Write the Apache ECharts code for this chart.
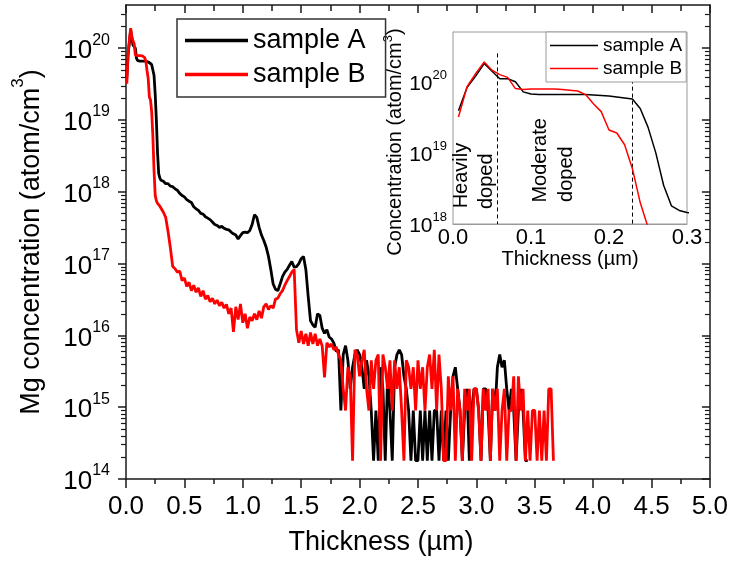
<!DOCTYPE html>
<html><head><meta charset="utf-8">
<script src="https://cdn.jsdelivr.net/npm/echarts@6/dist/echarts.min.js"></script>
<style>html,body{margin:0;padding:0;background:#fff}#c{width:731px;height:565px}</style>
</head><body><div id="c"></div>
<script>
// Depth (µm)
const thickness = [
0.007,0.018,0.029,0.04,0.05,0.06,0.07,0.08,0.09,0.1,0.11,0.12,0.13,0.14,0.15,0.16,0.17,0.18,0.19,0.2,0.21,0.22,0.23,0.24,0.25,0.26,0.27,0.28,0.29,0.3,
0.32,0.34,0.36,0.38,0.4,0.42,0.44,0.46,0.48,0.5,
0.52,0.54,0.56,0.58,0.6,0.62,0.64,0.66,0.68,0.7,
0.72,0.74,0.76,0.78,0.8,0.82,0.84,0.86,0.88,0.9,
0.92,0.94,0.96,0.98,1,1.02,1.04,1.06,1.08,1.1,
1.12,1.14,1.16,1.18,1.2,1.22,1.24,1.26,1.28,1.3,
1.32,1.34,1.36,1.38,1.4,1.42,1.44,1.46,1.48,1.5,
1.52,1.54,1.56,1.58,1.6,1.62,1.64,1.66,1.68,1.7,
1.72,1.74,1.76,1.78,1.8,
1.82,1.84,1.86,1.88,1.9,1.92,1.94,1.96,1.98,2,
2.02,2.04,2.06,2.08,2.1,2.12,2.14,2.16,2.18,2.2,
2.22,2.24,2.26,2.28,2.3,2.32,2.34,2.36,2.38,2.4,
2.42,2.44,2.46,2.48,2.5,2.52,2.54,2.56,2.58,2.6,
2.62,2.64,2.66,2.68,2.7,2.72,2.74,2.76,2.78,2.8,
2.82,2.84,2.86,2.88,2.9,2.92,2.94,2.96,2.98,3,
3.02,3.04,3.06,3.08,3.1,3.12,3.14,3.16,3.18,3.2,
3.22,3.24,3.26,3.28,3.3,3.32,3.34,3.36,3.38,3.4,
3.42,3.44,3.46,3.48,3.5,3.52,3.54,3.56,3.58,3.6,
3.62,3.64,3.66
];
// Mg concentration (atom/cm3), sample A
const sampleA = [
3.9e19,8.3e19,1.2e20,1.8e20,1.4e20,1.1e20,1.1e20,1.0e20,7.2e19,6.7e19,6.6e19,6.6e19,6.6e19,6.6e19,6.6e19,6.6e19,6.6e19,6.5e19,6.4e19,6.3e19,6.1e19,5.9e19,5.7e19,4.2e19,2.3e19,1.0e19,3.5e18,1.8e18,1.55e18,1.45e18,
1.4e18,1.3e18,1.3e18,1.2e18,1.18e18,1.1e18,1.05e18,9.5e17,8.9e17,8.5e17,
7.8e17,7.4e17,7.1e17,6.2e17,5.8e17,5.5e17,5.0e17,4.9e17,4.5e17,4.3e17,
4.1e17,3.8e17,3.5e17,3.4e17,3.2e17,3.3e17,3.1e17,3.0e17,2.95e17,2.75e17,
2.6e17,2.5e17,2.2e17,2.45e17,2.7e17,2.75e17,2.7e17,2.9e17,3.5e17,4.8e17,
4.4e17,3.2e17,2.5e17,2.1e17,1.7e17,1.26e17,8.3e16,5.2e16,4.4e16,4.2e16,
5.2e16,6.6e16,7.6e16,8.3e16,9.5e16,1.07e17,8.9e16,9.1e16,1.0e17,1.17e17,
1.26e17,8.3e16,3.5e16,1.6e16,1.4e16,1.3e16,2.0e16,1.9e16,1.26e16,1.07e16,
1.2e16,9.5e15,8.9e15,7.8e15,6.0e15,
6.3e15,9e14,5.4e15,7.2e15,4.5e15,1.8e15,3.6e15,5.4e15,6.3e15,5.4e15,
3.6e15,1.8e15,4.5e15,2.7e15,9e14,1.8e14,9e14,1.8e14,3.6e15,1.8e15,
1.8e14,2.7e15,9e14,1.8e14,3.6e15,5.4e15,6.3e15,5.4e15,2.7e15,1.8e15,
9e14,1.8e14,9e14,1.8e14,1.8e14,9e14,1.8e14,9e14,1.8e14,9e14,
1.8e14,9e14,9e14,1.8e14,9e14,1.8e14,9e14,1.8e14,9e14,2.7e15,
3.6e15,1.8e15,9e14,1.8e14,9e14,1.8e15,1.8e14,9e14,1.8e15,1.8e15,
9e14,1.8e14,1.8e15,1.8e15,9e14,1.8e14,1.8e15,9e14,3.6e15,5.4e15,
3.6e15,4.5e15,1.8e15,9e14,1.8e15,9e14,1.8e14,9e14,1.8e15,9e14,
1.8e14,1.8e14
];
// Mg concentration (atom/cm3), sample B
const sampleB = [
3.2e19,8.5e19,1.3e20,1.9e20,1.45e20,1.26e20,1.15e20,8.0e19,7.8e19,7.9e19,7.9e19,7.9e19,7.9e19,7.8e19,7.6e19,7.4e19,6.6e19,4.9e19,3.8e19,2.1e19,1.9e19,1.3e19,6.0e18,2.0e18,9.0e17,7.5e17,6.9e17,6.5e17,6.3e17,6.0e17,
5.2e17,4.4e17,2.8e17,1.66e17,9.1e16,8.5e16,7.6e16,7.9e16,5.8e16,6.3e16,
4.8e16,5.5e16,4.2e16,5.0e16,4.0e16,4.6e16,3.5e16,4.2e16,3.2e16,3.6e16,
2.95e16,3.3e16,2.75e16,3.1e16,2.6e16,2.9e16,2.4e16,2.7e16,2.0e16,2.4e16,
1.12e16,2.5e16,1.66e16,2.75e16,1.5e16,2.0e16,1.26e16,1.8e16,1.6e16,2.0e16,
1.66e16,2.2e16,1.74e16,2.5e16,2.75e16,2.3e16,2.6e16,2.4e16,3.2e16,3.3e16,
3.8e16,4.2e16,5.0e16,5.8e16,6.6e16,7.6e16,8.3e16,1.2e16,7.9e15,1.15e16,
7.6e15,1.05e16,7.2e15,1.1e16,7.6e15,1.05e16,7.2e15,8.9e15,7.1e15,2.6e15,
7.9e15,6.9e15,7.6e15,6.3e15,6.9e15,
5.4e15,4.5e15,1.8e15,9e14,3.6e15,2.7e15,1.8e14,6.3e15,5.4e15,2.7e15,
4.5e15,6.3e15,1.8e15,9e14,4.5e15,1.8e15,4.5e15,5.4e15,1.8e14,5.4e15,
3.6e15,1.8e15,4.5e15,9e14,4.5e15,1.8e15,3.6e15,9e14,1.8e14,4.5e15,
3.6e15,1.8e15,3.6e15,9e14,4.5e15,1.8e15,3.6e15,9e14,3.6e15,5.4e15,
1.8e15,6.3e15,9e14,5.4e15,1.8e15,1.8e14,1.8e14,2.7e15,9e14,2.7e15,
1.8e14,1.8e15,9e14,1.8e14,1.8e15,9e14,1.8e15,1.8e14,1.8e15,1.8e15,
9e14,1.8e14,1.8e15,9e14,1.8e15,1.8e14,1.8e15,9e14,1.8e15,1.8e14,
9e14,1.8e15,1.8e14,9e14,9e14,2.7e15,1.8e14,2.7e15,9e14,1.8e15,
1.8e14,9e14,1.8e14,9e14,9e14,1.8e14,9e14,1.8e14,9e14,1.8e14,
1.8e15,1.8e15,1.8e14
];
const seriesNames = ['sample A', 'sample B'];
const xTicksMain = [0, 5, 0.5];          // min, max, step (µm)
const yDecadesMain = [14, 15, 16, 17, 18, 19, 20];
const xTicksInset = [0, 0.3, 0.1];
const yDecadesInset = [18, 19, 20];
const insetDividers = [0.057, 0.23];      // µm
const dividerTops = [2.5e20, 1.07e20];    // atom/cm3
const notes = [
  {text: 'Heavily', at: [0.0115, 1.66e18]},
  {text: 'doped', at: [0.0435, 1.62e18]},
  {text: 'Moderate', at: [0.1116, 2.0e18]},
  {text: 'doped', at: [0.1458, 2.04e18]}
];

const F = "'Liberation Sans', Arial, Helvetica, sans-serif";
const lg = Math.log10;
const ptsA = sampleA.map((v, i) => [thickness[i], lg(v)]);
const ptsB = sampleB.map((v, i) => [thickness[i], lg(v)]);
const insA = ptsA.filter(p => p[0] <= 0.33);
const insB = ptsB.filter(p => p[0] <= 0.33);
const yMaxMain = lg(4e20), yMaxInset = lg(5e20);
const minorMain = [];
for (const n of yDecadesMain) for (let k = 2; k <= 9; k++) { const v = n + lg(k); if (v < yMaxMain) minorMain.push(v); }

const black = '#000', axisC = '#1a1a1a', gray = '#9a9a9a';
const supLabel = v => '{b|10}{s|' + Math.round(v) + '}';

const chart = echarts.init(document.getElementById('c'));
chart.setOption({
  animation: false,
  backgroundColor: '#fff',
  textStyle: {fontFamily: F},
  grid: [
    {left: 126, top: 5, right: 19, bottom: 86},
    {left: 453, top: 32, right: 44, bottom: 341, show: true, backgroundColor: '#fff', borderColor: gray, borderWidth: 1, z: 3}
  ],
  legend: [
    {data: seriesNames, orient: 'vertical', left: 177, top: 19, icon: 'rect', itemWidth: 63, itemHeight: 3.5, itemGap: 7,
     padding: [8, 20, 9, 8], borderColor: '#333', borderWidth: 1.5, selectedMode: false,
     textStyle: {fontSize: 27, color: black, fontFamily: F}},
    {data: seriesNames, orient: 'vertical', left: 546, top: 32, icon: 'rect', itemWidth: 48, itemHeight: 1.5, itemGap: 4,
     padding: [4, 4, 4, 4], borderColor: gray, borderWidth: 1, backgroundColor: '#fff', selectedMode: false, z: 10,
     textStyle: {fontSize: 19, color: black, fontFamily: F}}
  ],
  xAxis: [
    {gridIndex: 0, type: 'value', min: xTicksMain[0], max: xTicksMain[1], interval: xTicksMain[2], position: 'bottom',
     axisLine: {lineStyle: {color: axisC, width: 1.5}},
     axisTick: {length: 9, lineStyle: {color: axisC, width: 1.5}},
     minorTick: {show: true, splitNumber: 2, length: 5, lineStyle: {color: axisC, width: 1.5}},
     splitLine: {show: false},
     axisLabel: {fontSize: 26, color: black, margin: 15, formatter: v => v.toFixed(1)},
     name: 'Thickness (µm)', nameLocation: 'middle', nameGap: 50,
     nameTextStyle: {fontSize: 27, color: black, padding: [0, 74, 0, 0]}},
    {gridIndex: 0, type: 'value', min: xTicksMain[0], max: xTicksMain[1], interval: xTicksMain[2], position: 'top',
     axisLine: {lineStyle: {color: axisC, width: 1.5}},
     axisTick: {inside: true, length: 8, lineStyle: {color: axisC, width: 1.5}},
     minorTick: {show: true, splitNumber: 2, length: 6, lineStyle: {color: axisC, width: 1.5}},
     splitLine: {show: false}, axisLabel: {show: false}},
    {gridIndex: 1, type: 'value', min: xTicksInset[0], max: xTicksInset[1], interval: xTicksInset[2], position: 'bottom',
     axisLine: {lineStyle: {color: gray, width: 1}}, axisTick: {show: false}, splitLine: {show: false},
     axisLabel: {fontSize: 22, color: black, margin: 3, formatter: v => v.toFixed(1)},
     name: 'Thickness (µm)', nameLocation: 'middle', nameGap: 21, nameTextStyle: {fontSize: 20, color: black}}
  ],
  yAxis: [
    {gridIndex: 0, type: 'value', min: 14, max: yMaxMain, position: 'left',
     axisLine: {lineStyle: {color: axisC, width: 1.5}},
     axisTick: {customValues: yDecadesMain, length: 8, lineStyle: {color: axisC, width: 1.5}},
     splitLine: {show: false},
     axisLabel: {customValues: yDecadesMain, margin: 16, color: black, formatter: supLabel,
       rich: {b: {fontSize: 26, padding: [6, 0, 0, 0], color: black}, s: {fontSize: 16, verticalAlign: 'top', color: black}}},
     name: '{t|Mg concentration (atom/cm}{s|3}{t|)}', nameLocation: 'middle', nameGap: 81,
     nameTextStyle: {color: black, rich: {t: {fontSize: 27, padding: [8, 0, 0, 0], color: black}, s: {fontSize: 17, verticalAlign: 'top', color: black}}}},
    {gridIndex: 0, type: 'value', min: 14, max: yMaxMain, position: 'left',
     axisLine: {show: false}, axisLabel: {show: false}, splitLine: {show: false},
     axisTick: {customValues: minorMain, length: 5, lineStyle: {color: axisC, width: 1.2}}},
    {gridIndex: 0, type: 'value', min: 14, max: yMaxMain, position: 'right',
     axisLine: {lineStyle: {color: axisC, width: 1.5}}, axisLabel: {show: false}, splitLine: {show: false},
     axisTick: {customValues: yDecadesMain, inside: true, length: 8, lineStyle: {color: axisC, width: 1.5}}},
    {gridIndex: 0, type: 'value', min: 14, max: yMaxMain, position: 'right',
     axisLine: {show: false}, axisLabel: {show: false}, splitLine: {show: false},
     axisTick: {customValues: minorMain, inside: true, length: 5, lineStyle: {color: axisC, width: 1.2}}},
    {gridIndex: 1, type: 'value', min: 18, max: yMaxInset, position: 'left',
     axisLine: {lineStyle: {color: gray, width: 1}}, axisTick: {show: false}, splitLine: {show: false},
     axisLabel: {customValues: yDecadesInset, margin: 6, color: black, formatter: supLabel,
       rich: {b: {fontSize: 21, padding: [5, 0, 0, 0], color: black}, s: {fontSize: 13, verticalAlign: 'top', color: black}}},
     name: '{t|Concentration (atom/cm}{s|3}{t|)}', nameLocation: 'middle', nameGap: 41,
     nameTextStyle: {color: black, padding: [0, 28, 0, 0], rich: {t: {fontSize: 20, padding: [3, 0, 0, 0], color: black}, s: {fontSize: 13, verticalAlign: 'top', color: black}}}}
  ],
  series: [
    {name: seriesNames[0], type: 'line', xAxisIndex: 0, yAxisIndex: 0, data: ptsA, symbol: 'none', showSymbol: false, clip: true,
     lineStyle: {color: '#000', width: 2.8}, itemStyle: {color: '#000'}, z: 2},
    {name: seriesNames[1], type: 'line', xAxisIndex: 0, yAxisIndex: 0, data: ptsB, symbol: 'none', showSymbol: false, clip: true,
     lineStyle: {color: '#ff0000', width: 2.8}, itemStyle: {color: '#ff0000'}, z: 3},
    {name: seriesNames[0], type: 'line', xAxisIndex: 2, yAxisIndex: 4, data: insA, symbol: 'none', showSymbol: false, clip: true,
     lineStyle: {color: '#000', width: 1.5}, itemStyle: {color: '#000'}, z: 5,
     markLine: {silent: true, symbol: 'none', animation: false, label: {show: false},
       lineStyle: {color: '#000', width: 1, type: [4, 3]},
       data: insetDividers.map((x, i) => [{coord: [x, lg(dividerTops[i])]}, {coord: [x, 18]}])}},
    {name: seriesNames[1], type: 'line', xAxisIndex: 2, yAxisIndex: 4, data: insB, symbol: 'none', showSymbol: false, clip: true,
     lineStyle: {color: '#ff0000', width: 1.5}, itemStyle: {color: '#ff0000'}, z: 6}
  ]
});
chart.setOption({
  graphic: notes.map(n => {
    const p = chart.convertToPixel({gridIndex: 1}, [n.at[0], lg(n.at[1])]);
    return {type: 'text', x: p[0], y: p[1], rotation: Math.PI / 2, z: 100,
      style: {text: n.text, fontSize: 20, fontFamily: F, fill: '#000', align: 'left', verticalAlign: 'middle'}};
  })
});
</script></body></html>
